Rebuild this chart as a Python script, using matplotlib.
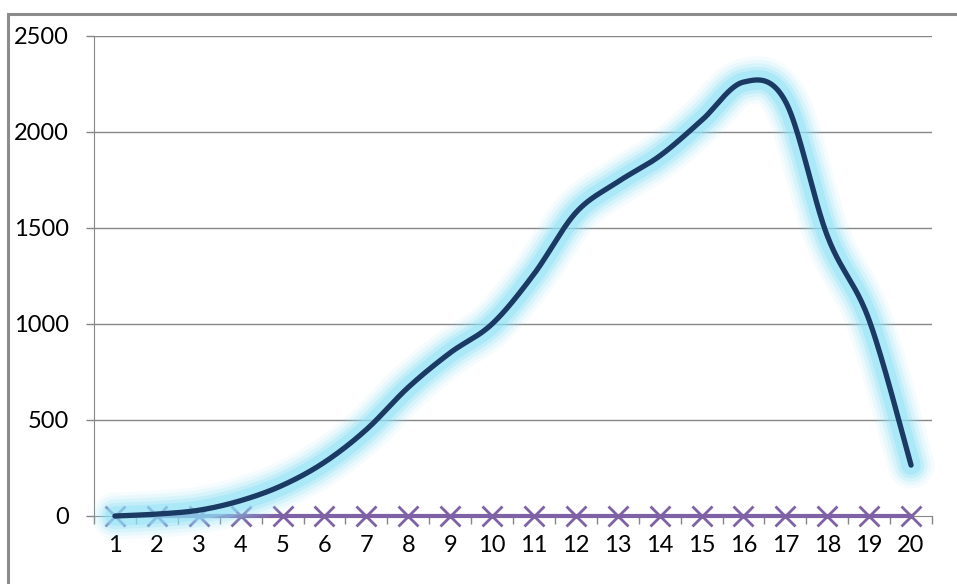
import numpy as np
import matplotlib
matplotlib.use("Agg")
import matplotlib.pyplot as plt
from matplotlib.patches import Rectangle

categories = [str(i) for i in range(1, 21)]
series_main = [0, 10, 30, 80, 160, 280, 450, 670, 850, 1000,
               1260, 1580, 1740, 1875, 2060, 2260, 2160, 1460, 1020, 265]
series_zero = [0] * 20
y_ticks = [0, 500, 1000, 1500, 2000, 2500]
y_tick_labels = ["0", "500", "1000", "1500", "2000", "2500"]

plt.rcParams['font.family'] = ['Lato', 'DejaVu Sans']

def smooth(xs, ys, n=40):
    xs = np.asarray(xs, float); ys = np.asarray(ys, float)
    px = np.concatenate([[xs[0]], xs, [xs[-1]]])
    py = np.concatenate([[ys[0]], ys, [ys[-1]]])
    ox, oy = [], []
    for i in range(1, len(px) - 2):
        p0 = np.array([px[i-1], py[i-1]]); p1 = np.array([px[i], py[i]])
        p2 = np.array([px[i+1], py[i+1]]); p3 = np.array([px[i+2], py[i+2]])
        c1 = p1 + (p2 - p0) / 6.0
        c2 = p2 - (p3 - p1) / 6.0
        t = np.linspace(0, 1, n)[:, None]
        b = ((1-t)**3)*p1 + 3*((1-t)**2)*t*c1 + 3*(1-t)*t**2*c2 + t**3*p2
        ox.extend(b[:, 0]); oy.extend(b[:, 1])
    return np.array(ox), np.array(oy)

fig = plt.figure(figsize=(9.57, 5.84), dpi=100)
fig.patches.append(Rectangle((8/957, -0.1), 1.2, (584-14)/584 + 0.1,
                             transform=fig.transFigure, fill=False,
                             edgecolor='#8c8c8c', linewidth=2.2))
ax = fig.add_axes([94/957, (584-516)/584, (932-94)/957, (516-36)/584])

x = np.arange(1, 21)
grid_c = '#868686'
for yv in y_ticks[1:]:
    ax.axhline(yv, color=grid_c, linewidth=1.0, zorder=0)

# purple series
ax.plot(x, series_zero, color='#7f62a5', linewidth=3.0, marker='x',
        markersize=14, markeredgewidth=2.0, zorder=2, clip_on=False)

sx, sy = smooth(x, series_main)
# glow
for w, a in [(34, 0.08), (29, 0.12), (24, 0.18), (19, 0.28), (14, 0.45)]:
    ax.plot(sx, sy, color='#8fe2f7', linewidth=w, alpha=a,
            solid_capstyle='round', solid_joinstyle='round', zorder=3, clip_on=False)
ax.plot(sx, sy, color='#1b3a63', linewidth=3.8, solid_capstyle='round',
        solid_joinstyle='round', zorder=4, clip_on=False)

ax.set_xlim(0.5, 20.5)
ax.set_ylim(0, 2500)
ax.set_xticks(x)
ax.set_xticklabels(categories)
ax.set_xticks(np.arange(0.5, 21, 1), minor=True)
ax.tick_params(axis='x', which='major', length=0, pad=14, labelsize=17)
ax.tick_params(axis='x', which='minor', length=6, width=1, color=grid_c, direction='out')
ax.set_yticks(y_ticks)
ax.set_yticklabels(y_tick_labels)
ax.tick_params(axis='y', length=6, width=1, color=grid_c, direction='out', pad=12, labelsize=17)
for s in ['top', 'right']:
    ax.spines[s].set_visible(False)
ax.spines['left'].set_color(grid_c)
ax.spines['bottom'].set_color(grid_c)
ax.spines['left'].set_zorder(1)
ax.spines['bottom'].set_zorder(1)
ax.patch.set_alpha(0)

fig.savefig('out.png', dpi=100)
